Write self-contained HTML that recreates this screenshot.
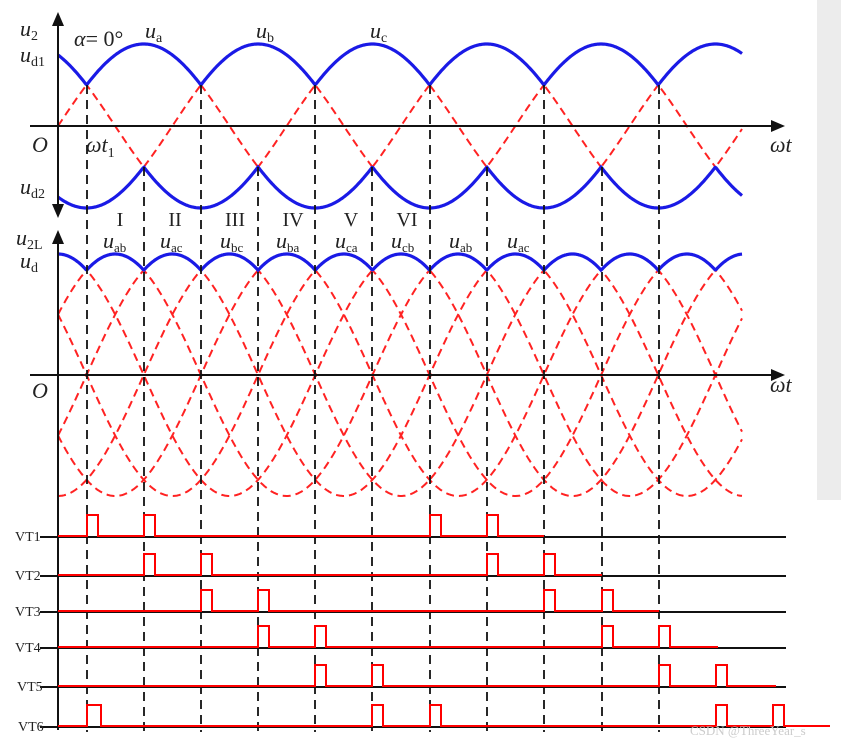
<!DOCTYPE html>
<html><head><meta charset="utf-8"><style>
body{margin:0;background:#fff;width:841px;height:744px;overflow:hidden;position:relative}
svg{position:absolute;left:0;top:0}
text{font-family:"Liberation Serif",serif;fill:#222}
</style></head><body>
<div style="position:absolute;left:817px;top:0;width:24px;height:500px;background:#ececec"></div>
<svg id="s" width="841" height="744" xmlns="http://www.w3.org/2000/svg">
<g id="g"></g>
<g font-size="22" font-style="italic">
<text x="20" y="36">u<tspan font-size="14" font-style="normal" dy="4">2</tspan></text>
<text x="20" y="62">u<tspan font-size="14" font-style="normal" dy="4">d1</tspan></text>
<text x="32" y="152">O</text>
<text x="86" y="152">ωt<tspan font-size="14" font-style="normal" dy="5">1</tspan></text>
<text x="770" y="152">ωt</text>
<text x="20" y="194">u<tspan font-size="14" font-style="normal" dy="4">d2</tspan></text>
<text x="74" y="46">α<tspan font-style="normal">= 0°</tspan></text>
<text x="145" y="38">u<tspan font-size="14" font-style="normal" dy="4">a</tspan></text>
<text x="256" y="38">u<tspan font-size="14" font-style="normal" dy="4">b</tspan></text>
<text x="370" y="38">u<tspan font-size="14" font-style="normal" dy="4">c</tspan></text>
<text x="16" y="245">u<tspan font-size="14" font-style="normal" dy="4">2L</tspan></text>
<text x="20" y="268">u<tspan font-size="14" font-style="normal" dy="4">d</tspan></text>
<text x="32" y="398">O</text>
<text x="770" y="392">ωt</text>
<text x="103" y="248">u<tspan font-size="13" font-style="normal" dy="4">ab</tspan></text>
<text x="160" y="248">u<tspan font-size="13" font-style="normal" dy="4">ac</tspan></text>
<text x="220" y="248">u<tspan font-size="13" font-style="normal" dy="4">bc</tspan></text>
<text x="276" y="248">u<tspan font-size="13" font-style="normal" dy="4">ba</tspan></text>
<text x="335" y="248">u<tspan font-size="13" font-style="normal" dy="4">ca</tspan></text>
<text x="391" y="248">u<tspan font-size="13" font-style="normal" dy="4">cb</tspan></text>
<text x="449" y="248">u<tspan font-size="13" font-style="normal" dy="4">ab</tspan></text>
<text x="507" y="248">u<tspan font-size="13" font-style="normal" dy="4">ac</tspan></text>
</g>
<g font-size="20" text-anchor="middle">
<text x="120" y="226">I</text><text x="175" y="226">II</text><text x="235" y="226">III</text>
<text x="293" y="226">IV</text><text x="351" y="226">V</text><text x="407" y="226">VI</text>
</g>
<g font-size="14">
<text x="15" y="541">VT1</text><text x="15" y="580">VT2</text><text x="15" y="616">VT3</text>
<text x="15" y="652">VT4</text><text x="17" y="691">VT5</text><text x="18" y="731">VT6</text>
</g>
<text x="690" y="735" font-family="Liberation Sans,sans-serif" font-size="13" style="fill:#ccc">CSDN @ThreeYear_s</text>
</svg>
<script>
var g=document.getElementById('g'),h='';
var X0=58,P=343,A=82,Y1=126,A2=121,Y2=375,XE=742;
function th(x){return (x-X0)/P*2*Math.PI}
var d=Math.PI*2/3;
function ph(k,t){return Math.sin(t-k*d)}
function path(f,y0,amp,x1,x2){var s='';for(var x=x1;x<=x2;x+=1){s+=(x==x1?'M':'L')+x+' '+(y0-amp*f(th(x))).toFixed(1)+' ';}return s}
for(var k=0;k<3;k++){(function(k){h+='<path d="'+path(function(t){return ph(k,t)},Y1,A,X0,XE)+'" fill="none" stroke="#f22" stroke-width="2" stroke-dasharray="8,5"/>';})(k)}
h+='<path d="'+path(function(t){return Math.max(ph(0,t),ph(1,t),ph(2,t))},Y1,A,X0,XE)+'" fill="none" stroke="#1a1ae6" stroke-width="3.2"/>';
h+='<path d="'+path(function(t){return Math.min(ph(0,t),ph(1,t),ph(2,t))},Y1,A,X0,XE)+'" fill="none" stroke="#1a1ae6" stroke-width="3.2"/>';
var pairs=[[0,1],[0,2],[1,2],[1,0],[2,0],[2,1]];
pairs.forEach(function(p){h+='<path d="'+path(function(t){return (ph(p[0],t)-ph(p[1],t))/Math.sqrt(3)},Y2,A2,X0,XE)+'" fill="none" stroke="#f22" stroke-width="2" stroke-dasharray="8,5"/>';});
h+='<path d="'+path(function(t){var m=-9;pairs.forEach(function(p){m=Math.max(m,(ph(p[0],t)-ph(p[1],t))/Math.sqrt(3))});return m},Y2,A2,X0,XE)+'" fill="none" stroke="#1a1ae6" stroke-width="3.2"/>';
h+='<line x1="58" y1="22" x2="58" y2="208" stroke="#111" stroke-width="2"/>';
h+='<polygon points="58,12 52,26 64,26" fill="#111"/><polygon points="58,218 52,204 64,204" fill="#111"/>';
h+='<line x1="30" y1="126" x2="775" y2="126" stroke="#111" stroke-width="2"/><polygon points="785,126 771,120 771,132" fill="#111"/>';
h+='<line x1="58" y1="240" x2="58" y2="730" stroke="#111" stroke-width="2"/><polygon points="58,230 52,244 64,244" fill="#111"/>';
h+='<line x1="30" y1="375" x2="775" y2="375" stroke="#111" stroke-width="2"/><polygon points="785,375 771,369 771,381" fill="#111"/>';
var cx=[87,144,201,258,315,372,430,487,544,602,659];
var tops=[85,167,85,167,85,167,85,167,85,167,85];
cx.forEach(function(x,i){h+='<line x1="'+x+'" y1="'+tops[i]+'" x2="'+x+'" y2="732" stroke="#111" stroke-width="1.8" stroke-dasharray="9,6"/>';});
var ys=[536,575,611,647,686,726];
var pl=[[87,144,430,487],[144,201,487,544],[201,258,544,602],[258,315,602,659],[315,372,659,716],[87,372,430,716,773]];
var ends=[544,602,659,718,776,830];
ys.forEach(function(y,i){
 h+='<line x1="40" y1="'+(y+1)+'" x2="786" y2="'+(y+1)+'" stroke="#111" stroke-width="2"/>';
 var s='M58 '+y;pl[i].forEach(function(x,j){var w=(i==5&&j==0)?14:11;s+=' L'+x+' '+y+' L'+x+' '+(y-21)+' L'+(x+w)+' '+(y-21)+' L'+(x+w)+' '+y;});
 s+=' L'+ends[i]+' '+y;
 h+='<path d="'+s+'" fill="none" stroke="#f00" stroke-width="2"/>';
});
g.innerHTML=h;
</script>
</body></html>
